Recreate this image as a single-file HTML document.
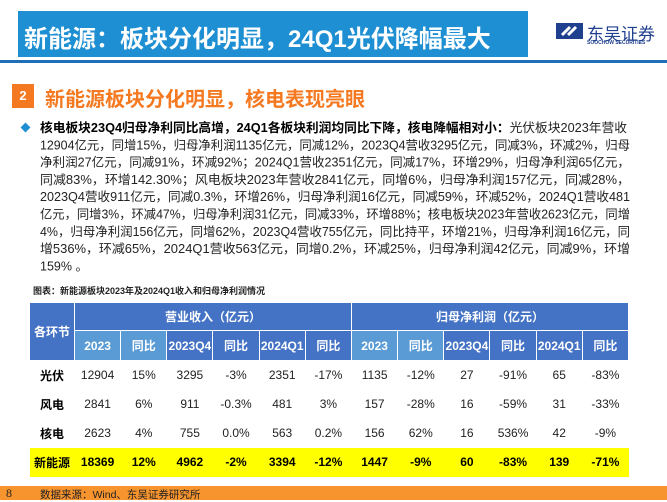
<!DOCTYPE html>
<html><head><meta charset="utf-8"><style>
*{margin:0;padding:0;box-sizing:border-box}
body{width:667px;height:500px;background:#fff;position:relative;overflow:hidden;font-family:"Liberation Sans","Noto Sans CJK SC",sans-serif}
.abs{position:absolute}
table{position:absolute;left:29px;top:302px;width:599px;border-collapse:collapse;table-layout:fixed;font-size:12px}
td,th{text-align:center;vertical-align:middle;padding:0}
th{color:#fff;font-weight:bold;border:1px solid #fff}
.h1{background:#4472c4;height:28px}
.hd{background:#4472c4;height:30px}
.hl{background:#5b9bd5}
tbody td{height:29px;color:#222}
tbody td:first-child{font-weight:bold;color:#000}
tr.tot td{background:#ffff00;font-weight:bold;color:#000}
</style></head><body>
<div class="abs" style="left:18px;top:11px;width:510px;height:46px;background:#1e8fd2"></div>
<div class="abs" style="left:24px;top:19px;color:#fff;font-size:24px;font-weight:bold;white-space:nowrap;font-family:'Liberation Sans','Noto Sans CJK SC',sans-serif">新能源：板块分化明显，24Q1光伏降幅最大</div>
<svg class="abs" style="left:556px;top:23px" width="27" height="16" viewBox="0 0 27 16"><rect width="27" height="16" fill="#1f3f8f"/><path d="M6 12 L14 4 M12 12 L20 4" stroke="#fff" stroke-width="3"/></svg>
<div class="abs" style="left:587px;top:20px;font-size:17px;color:#1f3f8f;white-space:nowrap">东吴证券</div>
<div class="abs" style="left:587px;top:40px;font-size:5px;color:#1f3f8f;font-weight:bold;white-space:nowrap">SOOCHOW SECURITIES</div>
<div class="abs" style="left:0;top:60px;width:667px;height:3px;background:#1e6fb8"></div>
<div class="abs" style="left:12px;top:84px;width:22px;height:24px;background:#f47920;color:#fff;font-size:13px;font-weight:bold;text-align:center;line-height:24px">2</div>
<div class="abs" style="left:45px;top:83px;color:#f47920;font-size:20px;font-weight:bold;white-space:nowrap">新能源板块分化明显，核电表现亮眼</div>
<div class="abs" style="left:22px;top:124px;width:7px;height:7px;background:#1e8fd2;transform:rotate(45deg)"></div>
<svg class="abs" style="left:0;top:115px" width="667" height="165" font-family="Liberation Sans, Noto Sans CJK SC, sans-serif" font-size="12.5" fill="#222">
<text x="40" y="17" textLength="587" lengthAdjust="spacingAndGlyphs"><tspan font-weight="bold" fill="#000">核电板块23Q4归母净利同比高增，24Q1各板块利润均同比下降，核电降幅相对小：</tspan>光伏板块2023年营收</text>
<text x="40" y="34.3" textLength="590" lengthAdjust="spacingAndGlyphs">12904亿元，同增15%，归母净利润1135亿元，同减12%，2023Q4营收3295亿元，同减3%，环减2%，归母</text>
<text x="40" y="51.6" textLength="590" lengthAdjust="spacingAndGlyphs">净利润27亿元，同减91%，环减92%；2024Q1营收2351亿元，同减17%，环增29%，归母净利润65亿元，</text>
<text x="40" y="68.9" textLength="590" lengthAdjust="spacingAndGlyphs">同减83%，环增142.30%；风电板块2023年营收2841亿元，同增6%，归母净利润157亿元，同减28%，</text>
<text x="40" y="86.2" textLength="590" lengthAdjust="spacingAndGlyphs">2023Q4营收911亿元，同减0.3%，环增26%，归母净利润16亿元，同减59%，环减52%，2024Q1营收481</text>
<text x="40" y="103.5" textLength="590" lengthAdjust="spacingAndGlyphs">亿元，同增3%，环减47%，归母净利润31亿元，同减33%，环增88%；核电板块2023年营收2623亿元，同增</text>
<text x="40" y="120.8" textLength="590" lengthAdjust="spacingAndGlyphs">4%，归母净利润156亿元，同增62%，2023Q4营收755亿元，同比持平，环增21%，归母净利润16亿元，同</text>
<text x="40" y="138.1" textLength="590" lengthAdjust="spacingAndGlyphs">增536%，环减65%，2024Q1营收563亿元，同增0.2%，环减25%，归母净利润42亿元，同减9%，环增</text>
<text x="40" y="155.4">159% 。</text>
</svg>
<div class="abs" style="left:33px;top:284px;font-size:9px;font-weight:bold;color:#222;white-space:nowrap">图表：新能源板块2023年及2024Q1收入和归母净利润情况</div>
<table>
<colgroup><col style="width:45px"><col span="12" style="width:46.17px"></colgroup>
<thead>
<tr class="h1"><th rowspan="2" class="h1">各环节</th><th colspan="6">营业收入（亿元）</th><th colspan="6">归母净利润（亿元）</th></tr>
<tr class="hd"><th class="hl">2023</th><th class="hl">同比</th><th>2023Q4</th><th>同比</th><th>2024Q1</th><th>同比</th><th class="hl">2023</th><th class="hl">同比</th><th>2023Q4</th><th>同比</th><th>2024Q1</th><th>同比</th></tr>
</thead>
<tbody>
<tr><td>光伏</td><td>12904</td><td>15%</td><td>3295</td><td>-3%</td><td>2351</td><td>-17%</td><td>1135</td><td>-12%</td><td>27</td><td>-91%</td><td>65</td><td>-83%</td></tr>
<tr><td>风电</td><td>2841</td><td>6%</td><td>911</td><td>-0.3%</td><td>481</td><td>3%</td><td>157</td><td>-28%</td><td>16</td><td>-59%</td><td>31</td><td>-33%</td></tr>
<tr><td>核电</td><td>2623</td><td>4%</td><td>755</td><td>0.0%</td><td>563</td><td>0.2%</td><td>156</td><td>62%</td><td>16</td><td>536%</td><td>42</td><td>-9%</td></tr>
<tr class="tot"><td>新能源</td><td>18369</td><td>12%</td><td>4962</td><td>-2%</td><td>3394</td><td>-12%</td><td>1447</td><td>-9%</td><td>60</td><td>-83%</td><td>139</td><td>-71%</td></tr>
</tbody>
</table>
<div class="abs" style="left:0;top:486px;width:667px;height:14px;background:#f7942e"></div>
<div class="abs" style="left:6px;top:486px;font-size:12px;color:#222;font-family:'Liberation Serif',serif">8</div>
<div class="abs" style="left:40px;top:487px;font-size:10.5px;color:#222;white-space:nowrap">数据来源：Wind、东吴证券研究所</div>
</body></html>
